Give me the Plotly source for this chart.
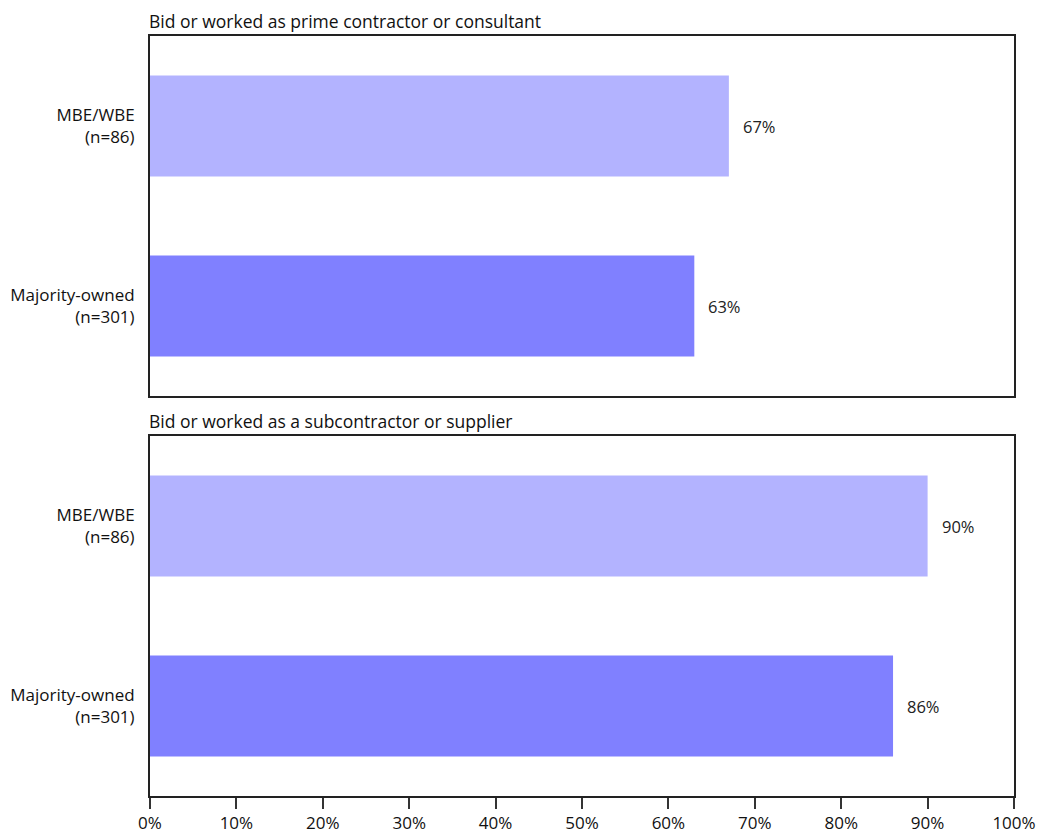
import plotly.graph_objects as go
from plotly.subplots import make_subplots

# data
groups = ["MBE/WBE<br>(n=86)", "Majority-owned<br>(n=301)"]
bar_colors = ["#b3b3ff", "#8080ff"]
panel_titles = ["Bid or worked as prime contractor or consultant",
                "Bid or worked as a subcontractor or supplier"]
prime_pct = [67, 63]
sub_pct = [90, 86]
x_ticks = list(range(0, 101, 10))
x_tick_text = [f"{t}%" for t in x_ticks]

FONT = "'Open Sans', 'Noto Sans', sans-serif"

fig = make_subplots(rows=2, cols=1, shared_xaxes=True, vertical_spacing=40 / 760)

for row, vals in enumerate([prime_pct, sub_pct], start=1):
    fig.add_trace(go.Bar(x=vals, y=groups, orientation="h",
                         marker=dict(color=bar_colors, line=dict(width=0)),
                         width=0.56, hoverinfo="x+y", showlegend=False),
                  row=row, col=1)
    sfx = "" if row == 1 else str(row)
    for g, v in zip(groups, vals):
        fig.add_annotation(x=v, y=g, text=f"{v}%", showarrow=False,
                           xanchor="left", xshift=12,
                           font=dict(size=16.5, color="#222"),
                           xref="x" + sfx, yref="y" + sfx)

# panel titles
for i, t in enumerate(panel_titles):
    yref = "y domain" if i == 0 else "y2 domain"
    fig.add_annotation(x=0, y=1, xref="paper", yref=yref, text=t, showarrow=False,
                       xanchor="left", yanchor="bottom", yshift=1, xshift=-3,
                       font=dict(size=17.5, color="#111"))

fig.update_xaxes(range=[0, 100], tickvals=x_ticks, ticktext=x_tick_text,
                 showgrid=False, zeroline=False, showline=True, linecolor="#222",
                 linewidth=2, mirror=True, fixedrange=True, automargin=False)
fig.update_xaxes(ticks="outside", ticklen=11, tickcolor="#333", tickwidth=2,
                 tickfont=dict(size=17, color="#111"), row=2, col=1)
fig.update_xaxes(ticks="", showticklabels=False, row=1, col=1)
fig.update_yaxes(autorange="reversed", showgrid=False, zeroline=False, showline=True,
                 linecolor="#222", linewidth=2, mirror=True, ticks="",
                 tickfont=dict(size=17, color="#111"), ticklabelstandoff=10,
                 automargin=False, fixedrange=True)

fig.update_layout(width=1039, height=835,
                  margin=dict(l=150, r=25, t=36, b=39),
                  plot_bgcolor="white", paper_bgcolor="white",
                  font=dict(family=FONT, color="#111"),
                  bargap=0.44)

fig.write_html("out.html", config={"displayModeBar": False},
               post_script="document.body.style.margin='0';")
